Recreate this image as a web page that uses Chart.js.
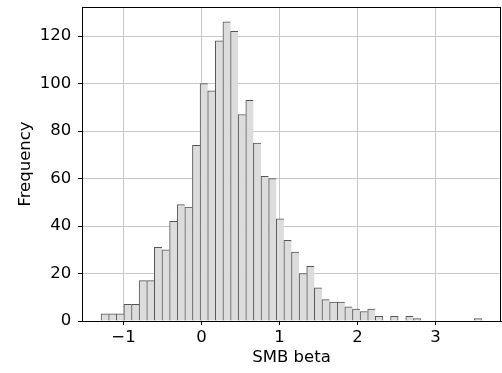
<!DOCTYPE html>
<html>
<head>
<meta charset="utf-8">
<script src="https://cdn.jsdelivr.net/npm/chart.js@4"></script>
<style>
  html, body { margin: 0; padding: 0; background: #fff; }
  #wrap { width: 502px; height: 373px; }
</style>
</head>
<body>
<div id="wrap"><canvas id="histChart" width="502" height="373"></canvas></div>
<script>
// histogram of SMB beta, 50 bins
const binStart = -1.288;
const binWidth = 0.0977;
const counts = [3, 3, 3, 7, 7, 17, 17, 31, 30, 42,
                49, 48, 74, 100, 97, 118, 126, 122, 87, 93,
                75, 61, 60, 43, 34, 29, 20, 23, 14, 9,
                8, 8, 6, 5, 4, 5, 2, 0, 2, 0,
                2, 1, 0, 0, 0, 0, 0, 0, 0, 1];
const xTicks = [-1, 0, 1, 2, 3];
const yTicks = [0, 20, 40, 60, 80, 100, 120];
const xLabel = 'SMB beta';
const yLabel = 'Frequency';

const points = counts.map((c, i) => ({ x: binStart + (i + 0.5) * binWidth, y: c }));

const fontBase = { family: 'DejaVu Sans', size: 16.5, lineHeight: 1 };

// draw the frame on top/right like matplotlib spines
const framePlugin = {
  id: 'frame',
  afterDatasetsDraw(chart) {
    const { ctx, chartArea: a } = chart;
    ctx.save();
    ctx.strokeStyle = '#000';
    ctx.lineWidth = 1;
    ctx.strokeRect(a.left + 0.5, a.top + 0.5, a.right - a.left - 1, a.bottom - a.top);
    ctx.restore();
  }
};

function edgeWidth(ctx) {
  const i = ctx.dataIndex;
  const next = i + 1 < counts.length ? counts[i + 1] : 0;
  return { left: 1, top: 1, bottom: 0, right: next === 0 ? 1 : 0 };
}

new Chart(document.getElementById('histChart').getContext('2d'), {
  type: 'bar',
  data: {
    datasets: [{
      data: points,
      backgroundColor: '#dcdcdc',
      borderColor: '#555555',
      borderWidth: edgeWidth,
      borderSkipped: false,
      barPercentage: 1,
      categoryPercentage: 1,
      grouped: false
    }]
  },
  options: {
    responsive: false,
    animation: false,
    events: [],
    layout: { padding: { top: 7, right: 1, left: 0, bottom: 0 } },
    plugins: {
      legend: { display: false },
      tooltip: { enabled: false }
    },
    scales: {
      x: {
        type: 'linear',
        offset: false,
        min: -1.532,
        max: 3.841,
        afterBuildTicks: (scale) => { scale.ticks = xTicks.map(v => ({ value: v })); },
        afterFit: (scale) => { scale.height = 52; scale.paddingLeft = 0; scale.paddingRight = 0; },
        grid: { offset: false, color: '#c8c8c8', lineWidth: 1, tickLength: 4, tickColor: '#000' },
        border: { color: '#000', width: 1 },
        ticks: {
          color: '#000',
          font: fontBase,
          padding: 4,
          maxRotation: 0,
          callback: (v) => (v < 0 ? '\u2212' + Math.abs(v) : String(v))
        },
        title: { display: true, text: xLabel, color: '#000', font: fontBase, padding: { top: 0, bottom: 6.75 } }
      },
      y: {
        min: 0,
        max: 132.3,
        afterBuildTicks: (scale) => { scale.ticks = yTicks.map(v => ({ value: v })); },
        afterFit: (scale) => { scale.width = 82; scale.paddingTop = 0; scale.paddingBottom = 0; },
        grid: { color: '#c8c8c8', lineWidth: 1, tickLength: 4, tickColor: '#000' },
        border: { color: '#000', width: 1 },
        ticks: { color: '#000', font: fontBase, padding: 6.7 },
        title: { display: true, text: yLabel, color: '#000', font: fontBase, padding: { top: 17.5, bottom: 0 } }
      }
    }
  },
  plugins: [framePlugin]
});
</script>
</body>
</html>
